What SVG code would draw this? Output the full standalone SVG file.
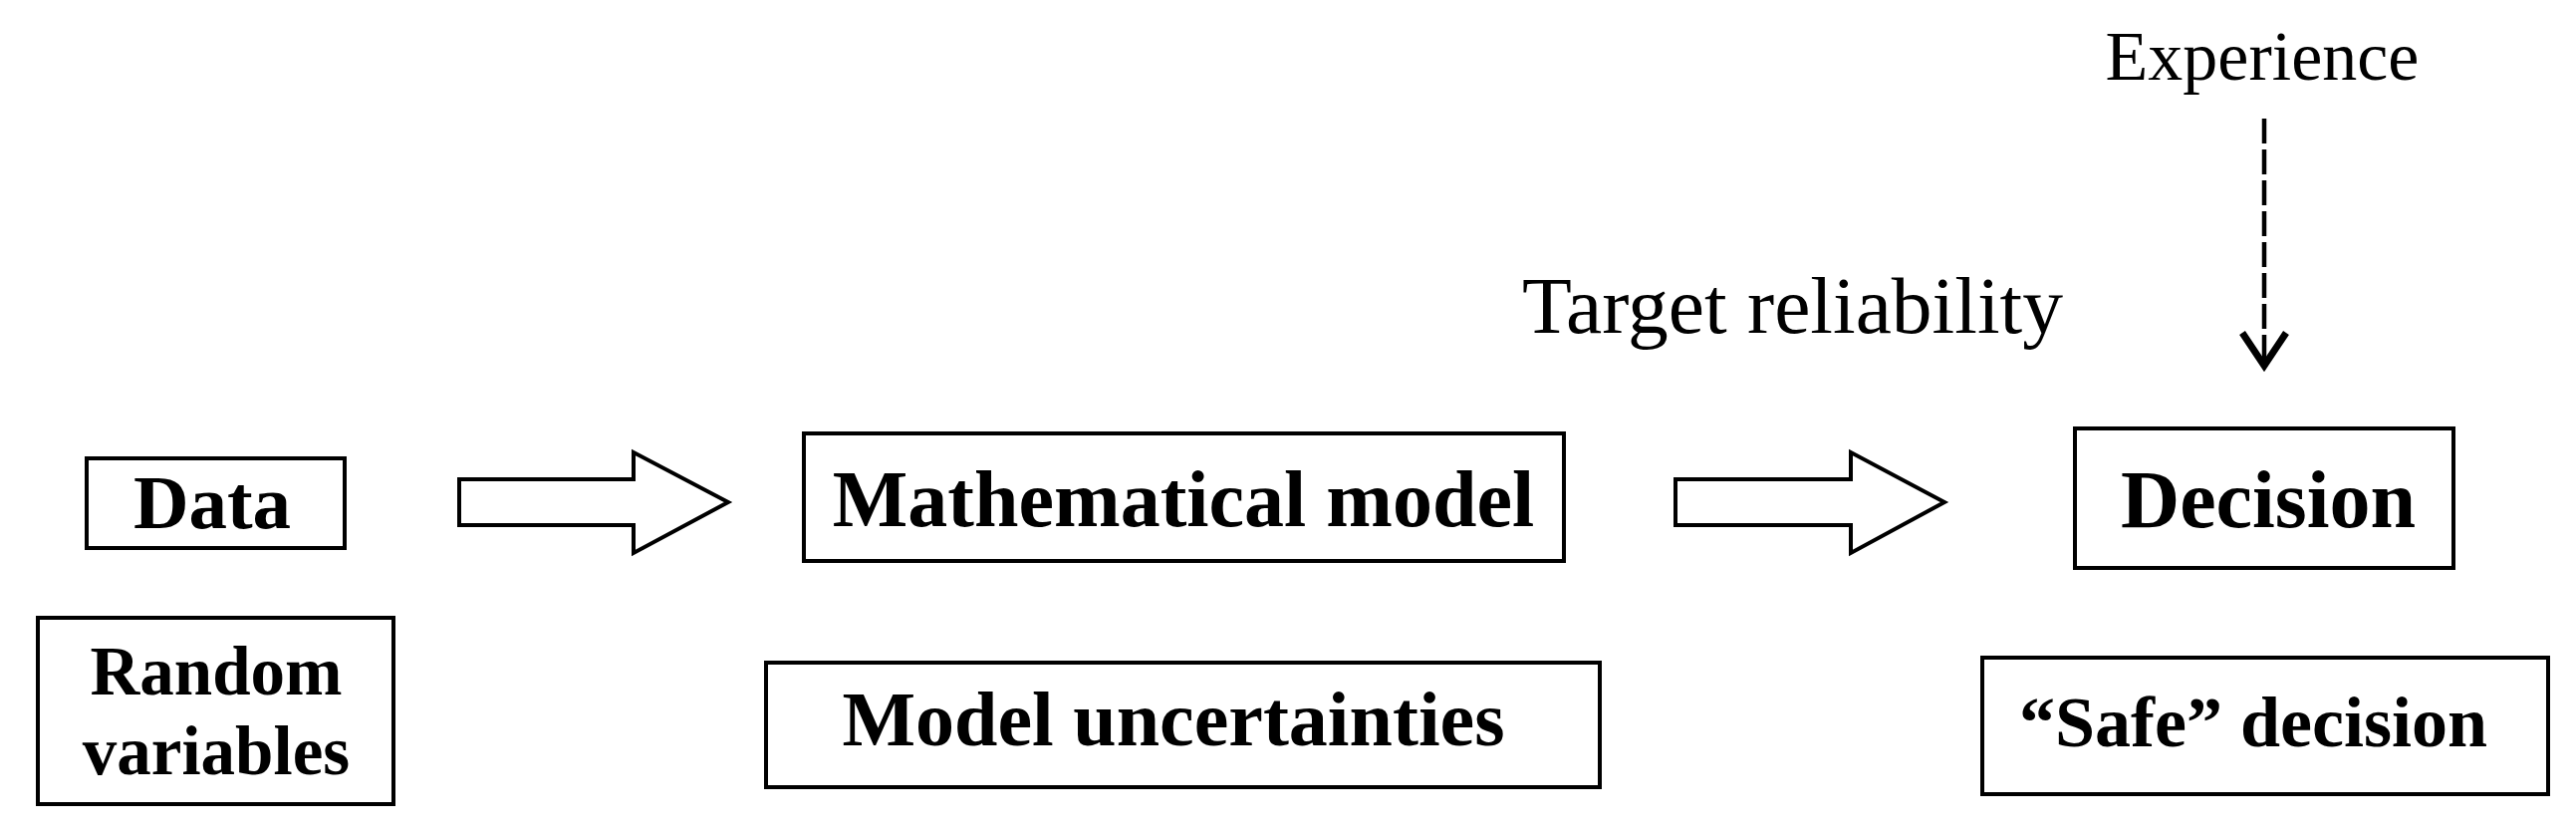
<svg xmlns="http://www.w3.org/2000/svg" width="2586" height="837" viewBox="0 0 2586 837">
<style>
.box{fill:#fff;stroke:#000;stroke-width:4}
.bt{font-family:"Liberation Serif","Times New Roman",serif;font-weight:bold;fill:#000;text-anchor:middle}
.rt{font-family:"Liberation Serif","Times New Roman",serif;fill:#000}
.blk{fill:#fff;stroke:#000;stroke-width:4;stroke-linejoin:miter}
</style>
<rect width="2586" height="837" fill="#fff"/>
<g id="data">
<rect class="box" x="87" y="460" width="259" height="90"/>
<text class="bt" x="213" y="530" font-size="77">Data</text>
</g>
<g id="random-variables">
<rect class="box" x="38" y="620" width="357" height="187"/>
<text class="bt" x="217" y="697" font-size="69">Random</text>
<text class="bt" x="217" y="777" font-size="69">variables</text>
</g>
<g id="mathematical-model">
<rect class="box" x="807" y="435" width="763" height="128"/>
<text class="bt" x="1188" y="528" font-size="80">Mathematical model</text>
</g>
<g id="model-uncertainties">
<rect class="box" x="769" y="665" width="837" height="125"/>
<text class="bt" x="1178" y="748" font-size="78">Model uncertainties</text>
</g>
<g id="decision">
<rect class="box" x="2083" y="430" width="380" height="140"/>
<text class="bt" x="2277" y="529" font-size="82">Decision</text>
</g>
<g id="safe-decision">
<rect class="box" x="1990" y="660" width="568" height="137"/>
<text class="bt" x="2262" y="749" font-size="72">“Safe” decision</text>
</g>
<g id="target-reliability">
<text class="rt" x="1528" y="334" font-size="80" textLength="543" lengthAdjust="spacingAndGlyphs">Target reliability</text>
</g>
<g id="experience">
<text class="rt" x="2271" y="80" font-size="70" text-anchor="middle">Experience</text>
</g>
<g id="connectors">
<path class="blk" d="M461,481 L636,481 L636,454 L731,504 L636,555 L636,527 L461,527 Z"/>
<path class="blk" d="M1682,481 L1858,481 L1858,454 L1952,504 L1858,555 L1858,527 L1682,527 Z"/>
<line x1="2273" y1="119" x2="2273" y2="364" stroke="#000" stroke-width="4.5" stroke-dasharray="25,6"/>
<path d="M2251,334 L2273,367 L2295,334" fill="none" stroke="#000" stroke-width="7"/>
</g>
</svg>
